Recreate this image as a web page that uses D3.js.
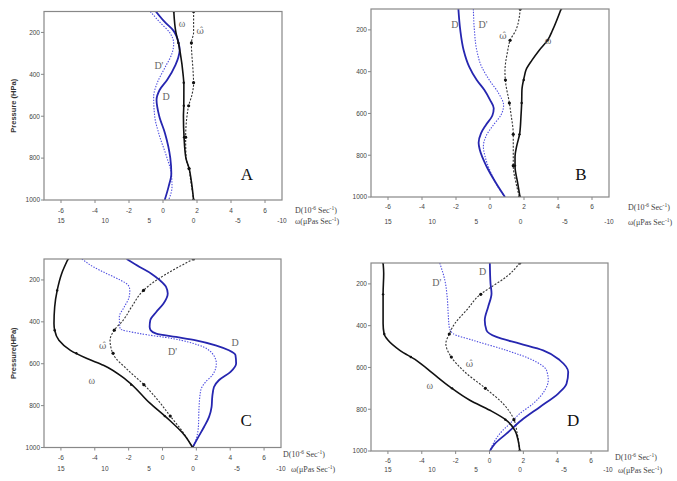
<!DOCTYPE html>
<html>
<head>
<meta charset="utf-8">
<script src="https://cdnjs.cloudflare.com/ajax/libs/d3/7.8.5/d3.min.js"></script>
<style>
body { margin:0; background:#fff; }
svg { display:block; }
.tl { font-family: Arial, "Liberation Sans", sans-serif; font-size:6.5px; fill:#444; }
.cl { font-family: "Times New Roman", "Liberation Serif", serif; font-size:10px; fill:#666; }
.clh { font-family: "DejaVu Serif", serif; font-size:9px; fill:#666; }
.ttl { font-family: "Times New Roman", "Liberation Serif", serif; font-size:8px; fill:#444; }
.big { font-family: "Times New Roman", "Liberation Serif", serif; font-size:17px; fill:#111; }
.plab { font-family: Arial, "Liberation Sans", sans-serif; font-size:7.5px; font-weight:bold; fill:#333; }
</style>
</head>
<body>
<script>
var width = 677, height = 481;

// tick labels
var pTicks = [200, 400, 600, 800, 1000];
var dTicks = [-6, -4, -2, 0, 2, 4, 6];
var wTicks = [15, 10, 5, 0, -5, -10];
var markLevels = [100, 250, 440, 550, 700, 850, 1000];

// [pressure hPa, value]  D and D' in 10^-6 s^-1, omega in microPa/s
var aD  = [[100,-0.42],[150,0.1],[190,0.6],[250,0.92],[285,0.98],[320,0.9],[356,0.73],[427,0.24],[475,-0.2],[523,-0.38],[600,-0.22],[682,0.12],[800,0.43],[873,0.49],[936,0.33],[1000,0.1]];
var aDp = [[100,-0.75],[150,-0.2],[205,0.43],[252,0.63],[300,0.53],[364,0.14],[443,-0.35],[507,-0.55],[600,-0.49],[682,-0.25],[800,0.24],[873,0.49],[936,0.53],[1000,0.33]];
var aW  = [[100,2.24],[200,2.0],[250,1.72],[300,1.5],[400,1.19],[450,1.1],[550,1.11],[600,1.15],[700,1.08],[800,0.87],[850,0.5],[900,0.29],[1000,0.0]];
var aWh = [[100,0.0],[200,0.0],[250,0.25],[400,0.04],[443,0.0],[500,0.2],[550,0.56],[600,0.75],[700,0.9],[800,0.85],[850,0.52],[900,0.35],[1000,0.0]];

var bD  = [[100,-1.86],[200,-1.75],[297,-1.55],[377,-1.22],[440,-0.78],[488,-0.33],[535,0.0],[575,0.22],[610,0.14],[655,-0.24],[695,-0.53],[740,-0.67],[774,-0.6],[854,-0.2],[933,0.35],[1000,0.88]];
var bDp = [[100,-0.98],[200,-0.92],[297,-0.78],[377,-0.49],[440,-0.04],[504,0.51],[560,0.8],[607,0.65],[655,0.2],[710,-0.24],[758,-0.39],[806,-0.29],[885,0.06],[949,0.45],[1000,0.88]];
var bW  = [[100,-4.58],[200,-3.63],[249,-3.06],[297,-2.11],[345,-1.29],[392,-0.61],[424,-0.42],[488,-0.15],[551,-0.12],[615,-0.04],[695,0.1],[758,0.45],[806,0.63],[854,0.63],[933,0.33],[1000,0.07]];
var bWh = [[100,0.04],[200,0.52],[250,1.19],[300,1.46],[400,1.77],[450,1.7],[550,1.27],[600,1.1],[700,0.83],[800,0.83],[850,0.83],[933,0.52],[1000,0.13]];

var cD  = [[100,-2.12],[138,-1.35],[170,-0.66],[200,-0.18],[233,0.21],[265,0.31],[313,0.06],[353,-0.37],[392,-0.72],[424,-0.76],[440,-0.7],[456,-0.37],[472,0.8],[488,1.97],[512,3.14],[536,3.92],[559,4.31],[599,4.35],[639,4.02],[679,3.33],[711,3.04],[758,2.94],[806,2.9],[854,2.75],[901,2.46],[949,2.12],[1000,1.77]];
var cDp = [[100,-4.76],[138,-4.07],[170,-3.29],[200,-2.51],[225,-2.03],[249,-1.93],[281,-1.97],[329,-2.26],[376,-2.55],[432,-2.51],[456,-1.35],[480,0.6],[512,2.16],[551,2.94],[599,3.18],[655,2.94],[687,2.55],[726,2.26],[806,2.16],[901,2.12],[965,1.97],[1000,1.81]];
var cW  = [[100,14.19],[170,14.92],[249,15.42],[329,15.71],[408,15.79],[440,15.71],[488,15.23],[536,13.92],[575,12.04],[607,10.17],[679,7.53],[787,4.92],[870,2.66],[941,0.96],[1000,0.04]];
var cWh = [[100,-0.06],[249,5.6],[329,6.98],[392,7.92],[440,8.94],[488,9.42],[556,9.04],[631,7.37],[699,5.6],[774,3.98],[849,2.6],[925,1.17],[1000,0.06]];

var dD  = [[100,0.02],[198,0.06],[246,0.12],[310,-0.08],[374,-0.28],[422,-0.18],[454,0.41],[486,1.79],[518,3.17],[566,4.16],[622,4.65],[678,4.55],[725,4.06],[789,2.98],[853,1.89],[917,1.0],[965,0.32],[1000,0.02]];
var dDp = [[100,-2.94],[182,-2.64],[262,-2.5],[342,-2.44],[406,-2.38],[438,-2.15],[470,-0.97],[518,1.0],[566,2.58],[614,3.37],[662,3.47],[709,3.27],[773,2.58],[821,1.79],[869,1.2],[917,0.61],[965,0.22],[1000,0.02]];
var dW  = [[100,15.55],[150,15.48],[246,15.55],[390,15.55],[438,15.44],[470,14.98],[518,13.65],[566,11.77],[630,9.86],[693,7.96],[757,5.69],[805,3.42],[853,1.54],[901,0.58],[949,0.21],[1000,0.02]];
var dWh = [[100,0.02],[166,1.54],[214,3.23],[246,4.37],[326,6.07],[390,7.4],[441,8.04],[486,8.42],[547,7.86],[614,6.46],[701,3.9],[773,1.92],[848,0.7],[917,0.31],[1000,0.02]];

var panels = [
  {name:"A", x0:44, x1:282, y0:11.5, y1:200, row:[11,20.5], t1:[13,10], t2:[13,21], ylab:"Pressure (HPa)",
   D:aD, Dp:aDp, W:aW, Wh:aWh,
   labels:[["ω",1.12,155],["ω\u0302",2.18,193],["D'",-0.24,360],["D",0.18,508]], big:[4.94,876]},
  {name:"B", x0:371, x1:609, y0:9, y1:197, row:[10,25], t1:[19,10], t2:[19,25], ylab:null,
   D:bD, Dp:bDp, W:bW, Wh:bWh,
   labels:[["D",-2.06,176],["D'",-0.41,176],["ω\u0302",0.76,229],["ω",3.41,253]], big:[5.35,888]},
  {name:"C", x0:44, x1:281, y0:259, y1:447.5, row:[10.5,21.5], t1:[2,6], t2:[10,21.5], ylab:"Pressure(HPa)",
   D:cD, Dp:cDp, W:cW, Wh:cWh,
   labels:[["ω\u0302",-3.53,515],["ω",-4.18,678],["D",4.29,501],["D'",0.59,544]], big:[4.94,869]},
  {name:"D", x0:371, x1:608, y0:263, y1:451, row:[10,18.5], t1:[7,6], t2:[10,19], ylab:null,
   D:dD, Dp:dDp, W:dW, Wh:dWh,
   labels:[["D'",-3.12,195],["D",-0.41,143],["ω\u0302",-1.18,582],["ω",-3.53,687]], big:[4.94,850]}
];

var svg = d3.select("body").append("svg")
  .attr("width", width).attr("height", height);

function valueAt(s, p) {
  for (var i = 1; i < s.length; i++) {
    if (p <= s[i][0]) {
      var t = (p - s[i-1][0]) / (s[i][0] - s[i-1][0]);
      return s[i-1][1] + t * (s[i][1] - s[i-1][1]);
    }
  }
  return s[s.length-1][1];
}

// parts: [text, isSup]
function addTitle(g, x, y, parts) {
  var t = g.append("text").attr("class", "ttl").attr("x", x).attr("y", y);
  var up = false;
  parts.forEach(function(p){
    var ts = t.append("tspan").text(p[0]);
    if (p[1]) { ts.attr("dy", -3).attr("font-size", "5.5px"); up = true; }
    else if (up) { ts.attr("dy", 3); up = false; }
  });
}

panels.forEach(function(p, k){
  var x = d3.scaleLinear().domain([-7, 7]).range([p.x0, p.x1]);
  var xw = d3.scaleLinear().domain([15, -10]).range([x(-6), x(7)]);
  var y = d3.scaleLinear().domain([100, 1000]).range([p.y0, p.y1]);
  var g = svg.append("g");

  g.append("clipPath").attr("id", "clip" + k).append("rect")
    .attr("x", p.x0).attr("y", p.y0).attr("width", p.x1 - p.x0).attr("height", p.y1 - p.y0);

  // ticks
  g.selectAll(".xt").data(dTicks).enter().append("line")
    .attr("x1", function(d){return x(d)}).attr("x2", function(d){return x(d)})
    .attr("y1", p.y1).attr("y2", p.y1 + 3).attr("stroke", "#888");
  g.selectAll(".yt").data(pTicks).enter().append("line")
    .attr("y1", function(d){return y(d)}).attr("y2", function(d){return y(d)})
    .attr("x1", p.x0 - 3).attr("x2", p.x0).attr("stroke", "#888");

  g.selectAll(".xl").data(dTicks).enter().append("text").attr("class", "tl")
    .attr("x", function(d){return x(d)}).attr("y", p.y1 + p.row[0] + 2.3)
    .attr("text-anchor", "middle")
    .text(function(d){return String(d)});
  g.selectAll(".wl").data(wTicks).enter().append("text").attr("class", "tl")
    .attr("x", function(d){return xw(d)}).attr("y", p.y1 + p.row[1] + 2.3)
    .attr("text-anchor", "middle")
    .text(function(d){return String(d)});
  g.selectAll(".yl").data(pTicks).enter().append("text").attr("class", "tl")
    .attr("x", p.x0 - 4).attr("y", function(d){return y(d) + 2.3})
    .attr("text-anchor", "end")
    .text(function(d){return String(d)});

  var plot = g.append("g").attr("clip-path", "url(#clip" + k + ")");
  var lineD = d3.line().x(function(d){return x(d[1])}).y(function(d){return y(d[0])}).curve(d3.curveMonotoneY);
  var lineW = d3.line().x(function(d){return xw(d[1])}).y(function(d){return y(d[0])}).curve(d3.curveMonotoneY);

  plot.append("path").attr("d", lineD(p.Dp)).attr("fill", "none")
    .attr("stroke", "#4d4de0").attr("stroke-width", 1.1).attr("stroke-dasharray", "1.4,1.4");
  plot.append("path").attr("d", lineW(p.Wh)).attr("fill", "none")
    .attr("stroke", "#333").attr("stroke-width", 1.1).attr("stroke-dasharray", "2,1.5");
  plot.append("path").attr("d", lineD(p.D)).attr("fill", "none")
    .attr("stroke", "#2626b0").attr("stroke-width", 1.8);
  plot.append("path").attr("d", lineW(p.W)).attr("fill", "none")
    .attr("stroke", "#111").attr("stroke-width", 1.6);

  plot.selectAll(".mh").data(markLevels).enter().append("circle")
    .attr("cx", function(d){return xw(valueAt(p.Wh, d))}).attr("cy", function(d){return y(d)})
    .attr("r", 1.6).attr("fill", "#111");
  plot.selectAll(".mw").data(markLevels).enter().append("circle")
    .attr("cx", function(d){return xw(valueAt(p.W, d))}).attr("cy", function(d){return y(d)})
    .attr("r", 1.2).attr("fill", "#111");

  g.append("rect").attr("x", p.x0).attr("y", p.y0)
    .attr("width", p.x1 - p.x0).attr("height", p.y1 - p.y0)
    .attr("fill", "none").attr("stroke", "#888").attr("stroke-width", 1.2);

  p.labels.forEach(function(l){
    var hat = l[0].length > 1 && l[0].charAt(1) === "\u0302";
    g.append("text").attr("class", hat ? "clh" : "cl")
      .attr("x", x(l[1])).attr("y", y(l[2]) + 3.5)
      .attr("text-anchor", "middle")
      .text(l[0]);
  });
  g.append("text").attr("class", "big")
    .attr("x", x(p.big[0])).attr("y", y(p.big[1]) + 6)
    .attr("text-anchor", "middle")
    .text(p.name);

  addTitle(g, p.x1 + p.t1[0], p.y1 + p.t1[1] + 3, [["D(10"],["-6",1],[" Sec"],["-1",1],[")"]]);
  addTitle(g, p.x1 + p.t2[0], p.y1 + p.t2[1] + 3, [["ω(μPas Sec"],["-1",1],[")"]]);

  if (p.ylab) {
    var cy = (p.y0 + p.y1) / 2;
    g.append("text").attr("class", "plab")
      .attr("transform", "translate(15.5," + cy + ") rotate(-90)")
      .attr("text-anchor", "middle")
      .text(p.ylab);
  }
});
</script>
</body>
</html>
